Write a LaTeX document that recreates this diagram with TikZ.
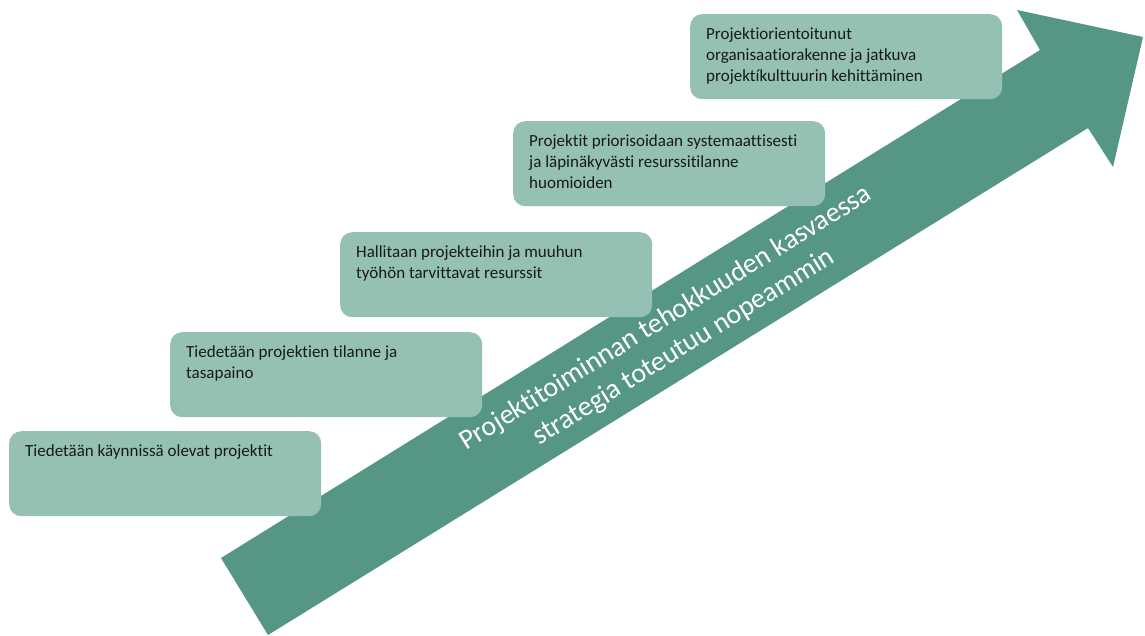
\documentclass[tikz,border=0pt]{standalone}
\usepackage{fontspec}
\setmainfont{Carlito}[Ligatures={NoCommon}]
\definecolor{arrowteal}{RGB}{85,150,133}
\definecolor{boxteal}{RGB}{148,193,180}
\definecolor{boxtext}{RGB}{25,25,25}
\begin{document}
\begin{tikzpicture}[x=1pt,y=-1pt,
  stepbox/.style={fill=boxteal, draw=none, rounded corners=12pt, anchor=north west,
    minimum width=312pt, minimum height=85pt, inner sep=0pt},
  steptext/.style={anchor=north west, inner sep=0pt, align=left, text=boxtext,
    font=\fontsize{17}{21}\selectfont},
  arrowtext/.style={text=white, align=center, inner sep=0pt, rotate=31.8,
    font=\fontsize{28}{34}\selectfont}]
\useasboundingbox (0,0) rectangle (1145,635);

% rising arrow
\fill[arrowteal] (221,558) -- (1040,50) -- (1017,10) -- (1143,37)
  -- (1113,167) -- (1088,128) -- (268,635) -- cycle;
\node[arrowtext] (lbl) at (675,333)
  {Projektitoiminnan tehokkuuden kasvaessa\\strategia toteutuu nopeammin};

% steps
\node[stepbox] (b1) at (9,431) {};
\node[steptext] (t1) at ([shift={(16,13)}]b1.north west)
  {Tiedetään käynnissä olevat projektit};

\node[stepbox] (b2) at (170,332) {};
\node[steptext] (t2) at ([shift={(16,13)}]b2.north west)
  {Tiedetään projektien tilanne ja\\tasapaino};

\node[stepbox] (b3) at (340,232) {};
\node[steptext] (t3) at ([shift={(16,13)}]b3.north west)
  {Hallitaan projekteihin ja muuhun\\työhön tarvittavat resurssit};

\node[stepbox] (b4) at (513,121) {};
\node[steptext] (t4) at ([shift={(16,13)}]b4.north west)
  {Projektit priorisoidaan systemaattisesti\\ja läpinäkyvästi resurssitilanne\\huomioiden};

\node[stepbox] (b5) at (690,14) {};
\node[steptext] (t5) at ([shift={(16,13)}]b5.north west)
  {Projektiorientoitunut\\organisaatiorakenne ja jatkuva\\projektíkulttuurin kehittäminen};
\end{tikzpicture}
\end{document}
